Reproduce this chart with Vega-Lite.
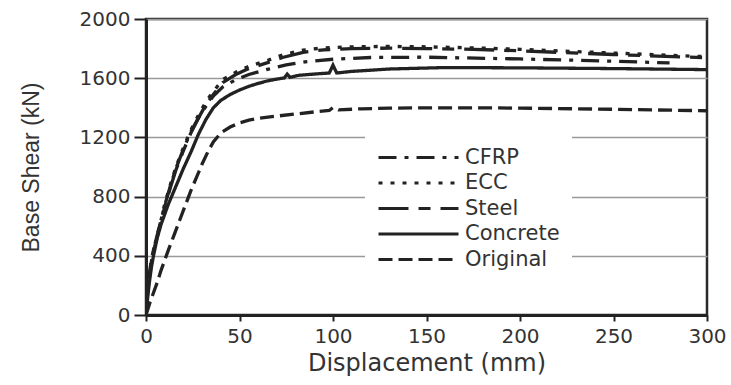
{
  "$schema": "https://vega.github.io/schema/vega-lite/v6.json",
  "autosize": "none",
  "width": 561,
  "height": 296,
  "padding": {"left": 146, "top": 19, "right": 24, "bottom": 70},
  "background": "white",
  "config": {
    "view": {"stroke": "#2a2a2a", "strokeWidth": 2.5},
    "font": "DejaVu Sans"
  },
  "data": {
    "values": [
      {"series": "Original", "x": 0, "y": 0},
      {"series": "Original", "x": 2, "y": 80},
      {"series": "Original", "x": 4, "y": 150},
      {"series": "Original", "x": 6, "y": 220},
      {"series": "Original", "x": 8, "y": 300},
      {"series": "Original", "x": 10, "y": 370},
      {"series": "Original", "x": 12, "y": 440},
      {"series": "Original", "x": 15, "y": 540},
      {"series": "Original", "x": 18, "y": 640},
      {"series": "Original", "x": 21, "y": 740},
      {"series": "Original", "x": 24, "y": 840},
      {"series": "Original", "x": 27, "y": 930},
      {"series": "Original", "x": 30, "y": 1020},
      {"series": "Original", "x": 33, "y": 1100},
      {"series": "Original", "x": 36, "y": 1170},
      {"series": "Original", "x": 40, "y": 1230},
      {"series": "Original", "x": 45, "y": 1270},
      {"series": "Original", "x": 50, "y": 1298},
      {"series": "Original", "x": 55, "y": 1316},
      {"series": "Original", "x": 60, "y": 1328},
      {"series": "Original", "x": 70, "y": 1344},
      {"series": "Original", "x": 80, "y": 1358},
      {"series": "Original", "x": 90, "y": 1372},
      {"series": "Original", "x": 98, "y": 1382},
      {"series": "Original", "x": 100, "y": 1402},
      {"series": "Original", "x": 103, "y": 1386},
      {"series": "Original", "x": 115, "y": 1393},
      {"series": "Original", "x": 130, "y": 1398},
      {"series": "Original", "x": 150, "y": 1400},
      {"series": "Original", "x": 175, "y": 1400},
      {"series": "Original", "x": 200, "y": 1398},
      {"series": "Original", "x": 250, "y": 1390},
      {"series": "Original", "x": 300, "y": 1380},

      {"series": "Concrete", "x": 0, "y": 0},
      {"series": "Concrete", "x": 1, "y": 130},
      {"series": "Concrete", "x": 2, "y": 240},
      {"series": "Concrete", "x": 3, "y": 330},
      {"series": "Concrete", "x": 4, "y": 400},
      {"series": "Concrete", "x": 6, "y": 520},
      {"series": "Concrete", "x": 8, "y": 610},
      {"series": "Concrete", "x": 10, "y": 680},
      {"series": "Concrete", "x": 12, "y": 750},
      {"series": "Concrete", "x": 14, "y": 810},
      {"series": "Concrete", "x": 17, "y": 900},
      {"series": "Concrete", "x": 20, "y": 990},
      {"series": "Concrete", "x": 24, "y": 1100},
      {"series": "Concrete", "x": 28, "y": 1220},
      {"series": "Concrete", "x": 32, "y": 1320},
      {"series": "Concrete", "x": 36, "y": 1400},
      {"series": "Concrete", "x": 40, "y": 1450},
      {"series": "Concrete", "x": 45, "y": 1490},
      {"series": "Concrete", "x": 50, "y": 1520},
      {"series": "Concrete", "x": 55, "y": 1545},
      {"series": "Concrete", "x": 60, "y": 1565},
      {"series": "Concrete", "x": 65, "y": 1582},
      {"series": "Concrete", "x": 70, "y": 1594},
      {"series": "Concrete", "x": 74, "y": 1602},
      {"series": "Concrete", "x": 75.5, "y": 1628},
      {"series": "Concrete", "x": 77, "y": 1606},
      {"series": "Concrete", "x": 82, "y": 1620},
      {"series": "Concrete", "x": 90, "y": 1628},
      {"series": "Concrete", "x": 98, "y": 1635},
      {"series": "Concrete", "x": 100, "y": 1688},
      {"series": "Concrete", "x": 102, "y": 1635},
      {"series": "Concrete", "x": 110, "y": 1646},
      {"series": "Concrete", "x": 130, "y": 1662},
      {"series": "Concrete", "x": 160, "y": 1672},
      {"series": "Concrete", "x": 200, "y": 1670},
      {"series": "Concrete", "x": 250, "y": 1665},
      {"series": "Concrete", "x": 300, "y": 1658},

      {"series": "CFRP", "x": 0, "y": 0},
      {"series": "CFRP", "x": 1, "y": 170},
      {"series": "CFRP", "x": 2, "y": 290},
      {"series": "CFRP", "x": 3, "y": 370},
      {"series": "CFRP", "x": 4, "y": 440},
      {"series": "CFRP", "x": 6, "y": 540},
      {"series": "CFRP", "x": 8, "y": 640},
      {"series": "CFRP", "x": 10, "y": 740},
      {"series": "CFRP", "x": 13, "y": 870},
      {"series": "CFRP", "x": 16, "y": 990},
      {"series": "CFRP", "x": 20, "y": 1120},
      {"series": "CFRP", "x": 24, "y": 1240},
      {"series": "CFRP", "x": 28, "y": 1330},
      {"series": "CFRP", "x": 32, "y": 1410},
      {"series": "CFRP", "x": 36, "y": 1480},
      {"series": "CFRP", "x": 41, "y": 1540},
      {"series": "CFRP", "x": 48, "y": 1590},
      {"series": "CFRP", "x": 55, "y": 1625},
      {"series": "CFRP", "x": 65, "y": 1660},
      {"series": "CFRP", "x": 75, "y": 1690},
      {"series": "CFRP", "x": 85, "y": 1710},
      {"series": "CFRP", "x": 100, "y": 1728},
      {"series": "CFRP", "x": 120, "y": 1740},
      {"series": "CFRP", "x": 150, "y": 1742},
      {"series": "CFRP", "x": 200, "y": 1730},
      {"series": "CFRP", "x": 250, "y": 1715},
      {"series": "CFRP", "x": 280, "y": 1703},

      {"series": "ECC", "x": 0, "y": 0},
      {"series": "ECC", "x": 1, "y": 180},
      {"series": "ECC", "x": 2, "y": 300},
      {"series": "ECC", "x": 3, "y": 380},
      {"series": "ECC", "x": 4, "y": 440},
      {"series": "ECC", "x": 6, "y": 540},
      {"series": "ECC", "x": 8, "y": 640},
      {"series": "ECC", "x": 10, "y": 750},
      {"series": "ECC", "x": 13, "y": 880},
      {"series": "ECC", "x": 16, "y": 1000},
      {"series": "ECC", "x": 20, "y": 1130},
      {"series": "ECC", "x": 24, "y": 1250},
      {"series": "ECC", "x": 28, "y": 1350},
      {"series": "ECC", "x": 32, "y": 1440},
      {"series": "ECC", "x": 36, "y": 1510},
      {"series": "ECC", "x": 41, "y": 1590},
      {"series": "ECC", "x": 48, "y": 1640},
      {"series": "ECC", "x": 55, "y": 1680},
      {"series": "ECC", "x": 65, "y": 1720},
      {"series": "ECC", "x": 73, "y": 1757},
      {"series": "ECC", "x": 84, "y": 1790},
      {"series": "ECC", "x": 95, "y": 1805},
      {"series": "ECC", "x": 110, "y": 1812},
      {"series": "ECC", "x": 130, "y": 1815},
      {"series": "ECC", "x": 150, "y": 1812},
      {"series": "ECC", "x": 175, "y": 1805},
      {"series": "ECC", "x": 200, "y": 1795},
      {"series": "ECC", "x": 250, "y": 1770},
      {"series": "ECC", "x": 300, "y": 1745},

      {"series": "Steel", "x": 0, "y": 0},
      {"series": "Steel", "x": 1, "y": 170},
      {"series": "Steel", "x": 2, "y": 290},
      {"series": "Steel", "x": 3, "y": 370},
      {"series": "Steel", "x": 4, "y": 430},
      {"series": "Steel", "x": 6, "y": 530},
      {"series": "Steel", "x": 8, "y": 630},
      {"series": "Steel", "x": 10, "y": 730},
      {"series": "Steel", "x": 13, "y": 860},
      {"series": "Steel", "x": 16, "y": 980},
      {"series": "Steel", "x": 20, "y": 1110},
      {"series": "Steel", "x": 24, "y": 1230},
      {"series": "Steel", "x": 28, "y": 1330},
      {"series": "Steel", "x": 32, "y": 1420},
      {"series": "Steel", "x": 36, "y": 1490},
      {"series": "Steel", "x": 41, "y": 1570},
      {"series": "Steel", "x": 48, "y": 1625},
      {"series": "Steel", "x": 55, "y": 1665},
      {"series": "Steel", "x": 65, "y": 1705},
      {"series": "Steel", "x": 73, "y": 1740},
      {"series": "Steel", "x": 84, "y": 1775},
      {"series": "Steel", "x": 95, "y": 1792},
      {"series": "Steel", "x": 110, "y": 1800},
      {"series": "Steel", "x": 130, "y": 1803},
      {"series": "Steel", "x": 150, "y": 1800},
      {"series": "Steel", "x": 175, "y": 1795},
      {"series": "Steel", "x": 200, "y": 1785},
      {"series": "Steel", "x": 250, "y": 1760},
      {"series": "Steel", "x": 300, "y": 1738}
    ]
  },
  "mark": {"type": "line", "color": "#222222", "strokeWidth": 3.3, "strokeCap": "butt", "clip": true},
  "encoding": {
    "x": {
      "field": "x",
      "type": "quantitative",
      "scale": {"domain": [0, 300], "nice": false},
      "axis": {
        "title": "Displacement (mm)",
        "values": [0, 50, 100, 150, 200, 250, 300],
        "grid": false,
        "domainColor": "#222222",
        "domainWidth": 3,
        "tickColor": "#222222",
        "tickWidth": 2,
        "tickSize": 6,
        "labelFont": "DejaVu Sans",
        "labelFontSize": 20,
        "labelColor": "#333333",
        "labelPadding": 5,
        "labelFlush": false,
        "titleFont": "DejaVu Sans",
        "titleFontSize": 24,
        "titleFontWeight": "normal",
        "titleColor": "#333333",
        "titlePadding": 5
      }
    },
    "y": {
      "field": "y",
      "type": "quantitative",
      "scale": {"domain": [0, 2000], "nice": false},
      "axis": {
        "title": "Base Shear (kN)",
        "values": [0, 400, 800, 1200, 1600, 2000],
        "format": "d",
        "grid": true,
        "gridColor": "#999999",
        "gridWidth": 1.5,
        "domainColor": "#222222",
        "domainWidth": 3,
        "tickColor": "#222222",
        "tickWidth": 2,
        "tickSize": 12,
        "labelFont": "DejaVu Sans",
        "labelFontSize": 20,
        "labelColor": "#333333",
        "labelPadding": 4,
        "titleFont": "Liberation Sans",
        "titleFontSize": 23,
        "titleFontWeight": "normal",
        "titleColor": "#333333",
        "titlePadding": 36
      }
    },
    "strokeDash": {
      "field": "series",
      "type": "nominal",
      "scale": {
        "domain": ["CFRP", "ECC", "Steel", "Concrete", "Original"],
        "range": [[18, 8, 4, 8], [4, 8], [30, 10, 12, 10], [1, 0], [14, 6]]
      },
      "legend": {
        "title": null,
        "orient": "none",
        "legendX": 219,
        "legendY": 116,
        "fillColor": "white",
        "padding": 12,
        "symbolType": "stroke",
        "symbolSize": 6400,
        "symbolStrokeWidth": 3,
        "symbolStrokeColor": "#222222",
        "clipHeight": 21,
        "labelFont": "DejaVu Sans",
        "labelFontSize": 21,
        "labelColor": "#333333",
        "labelOffset": 5,
        "rowPadding": 3.5
      }
    }
  }
}
